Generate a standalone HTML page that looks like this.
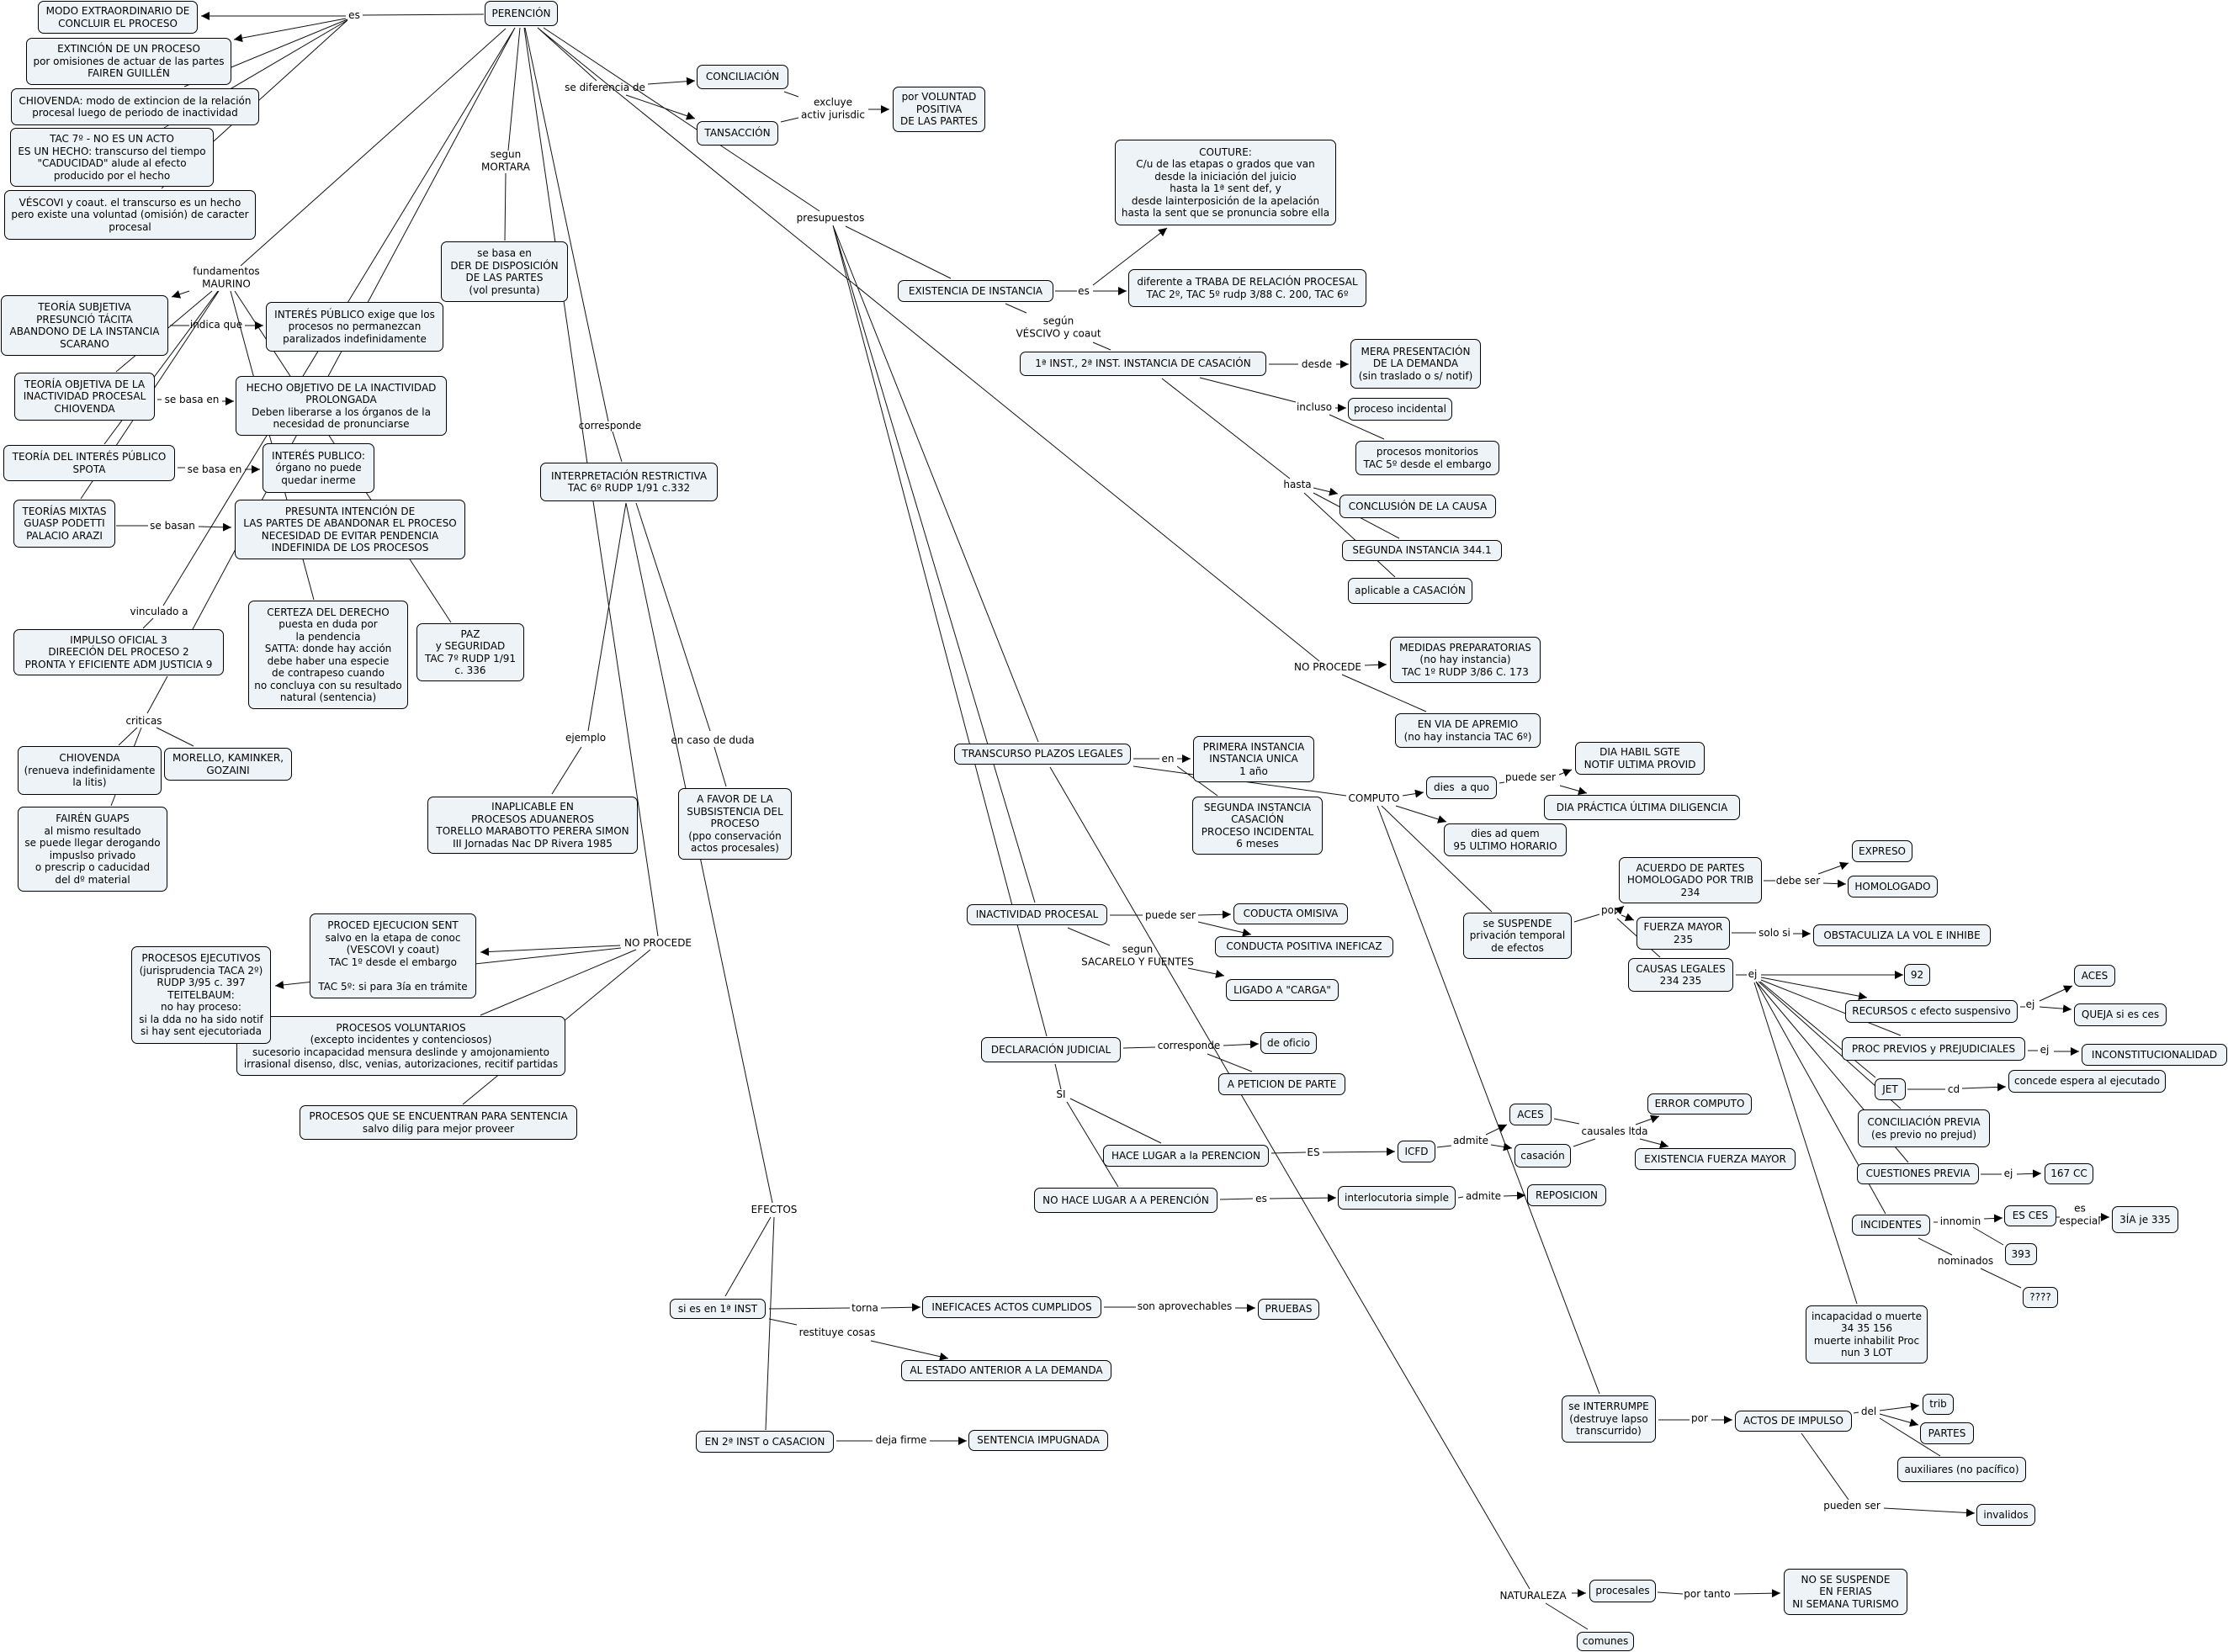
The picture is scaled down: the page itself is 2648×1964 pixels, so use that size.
<!DOCTYPE html>
<html lang="es"><head><meta charset="utf-8"><title>Perención</title>
<style>
html,body{margin:0;padding:0;background:#fff}
#c{position:relative;width:2648px;height:1964px;overflow:hidden;font:12px/14.5px "DejaVu Sans","Liberation Sans",sans-serif;color:#000}
svg{position:absolute;left:0;top:0}
.n{position:absolute;box-sizing:border-box;display:flex;align-items:center;justify-content:center;text-align:center;white-space:nowrap;background:#edf3f6;border:1px solid #000;border-radius:7px}
.l{position:absolute;transform:translate(-50%,-50%);text-align:center;white-space:nowrap}
.p{fill:none;stroke:#111;stroke-width:1}
.a{fill:none;stroke:#111;stroke-width:1;marker-end:url(#m)}
</style></head><body><div id="c">
<svg width="2648" height="1964" viewBox="0 0 2648 1964">
<defs><marker id="m" markerUnits="userSpaceOnUse" markerWidth="11" markerHeight="11" refX="10" refY="5" orient="auto"><path d="M0 0L10 5L0 10z" fill="#000"/></marker></defs>
<path class="p" d="M575 17L431 18M413 23L219 103M413 24L195 152M413 24L192 224M601 34L286 316M612 33L194 720M612 33L229 748M618 33L604 179M601 206L600 286M623 33L698 551M624 33L723 501M728 513L739 549M639 33L709 96M646 33L974 251M639 33L1568 786
M932 109L949 115M928 145L949 140M1005 269L1130 331M990 268L1234 882M990 268L1230 1073M990 268L1244 1232M1248 912L1818 1889
M1254 346L1280 346M1195 361L1220 372M1299 407L1320 416M1508 433L1543 433M1426 449L1540 478M1580 493L1645 522M1381 450L1533 569M1561 586L1663 640M1550 586L1658 686
M1595 802L1695 846M1347 902L1378 902M1399 911L1447 946M1347 911L1600 946M1782 931L1788 930M1642 958L1773 1084M1637 958L1901 1657
M1871 1096L1901 1087M1922 1092L1973 1138M2096 1047L2110 1047M2058 1109L2087 1109M2063 1159L2076 1159M2093 1165L2259 1231M2092 1167L2229 1281M2090 1167L2259 1318M2087 1167L2268 1382M2087 1167L2241 1443M2085 1168L2207 1550M2401 1197L2407 1197M2410 1249L2422 1249M2267 1295L2312 1295
M1335 1246L1373 1245M1435 1253L1488 1274M1269 1103L1319 1124M1319 1088L1358 1088M1254 1265L1261 1295M1272 1306L1380 1359M1268 1310L1329 1411M1511 1371L1552 1370M1708 1364L1725 1362M1450 1426L1489 1425M1733 1424L1739 1423
M1847 1330L1877 1336M1870 1363L1896 1354M2354 1396L2379 1396M2298 1453L2303 1453M2345 1459L2381 1480M2444 1447L2448 1447M2280 1472L2320 1492M2354 1508L2402 1531M1971 1688L2008 1688M2203 1680L2209 1679M2234 1686L2306 1731M2141 1704L2197 1783M1837 1906L1887 1937M1970 1893L2000 1895
M252 346L138 442M259 346L124 528M260 346L96 593M274 346L373 713M279 346L536 740M202 387L225 387M187 475L192 475M211 556L220 556M138 625L176 625M182 735L170 747M199 804L175 848M163 865L141 886M168 865L132 958M186 865L230 887
M705 596L782 1113M744 598L699 869M691 888L656 944M744 598L918 1430M756 598L844 869M849 888L863 935
M916 1447L862 1541M920 1447L910 1700M914 1556L1010 1555M914 1568L947 1575M1312 1554L1350 1554M994 1713L1037 1713
M756 1129L571 1207M773 1129L550 1313"/>
<path class="a" d="M411 19L239 19"/><path class="a" d="M411 22L278 47"/>
<path class="a" d="M770 100L826 96"/><path class="a" d="M744 113L826 141"/><path class="a" d="M1032 130L1057 130"/>
<path class="a" d="M1299 339L1387 271"/><path class="a" d="M1299 346L1339 346"/><path class="a" d="M1588 433L1603 433"/><path class="a" d="M1587 485L1600 485"/><path class="a" d="M1561 580L1590 587"/>
<path class="a" d="M1622 791L1648 790"/><path class="a" d="M1399 902L1415 902"/><path class="a" d="M1667 946L1692 942"/><path class="a" d="M1853 921L1868 915"/><path class="a" d="M1854 934L1886 943"/><path class="a" d="M1659 958L1719 977"/>
<path class="a" d="M1919 1087L1930 1077"/><path class="a" d="M1927 1088L1942 1094"/><path class="a" d="M2161 1039L2197 1026"/><path class="a" d="M2167 1050L2194 1051"/><path class="a" d="M2131 1110L2152 1110"/>
<path class="a" d="M2093 1159L2262 1159"/><path class="a" d="M2093 1162L2219 1186"/><path class="a" d="M2424 1190L2463 1172"/><path class="a" d="M2424 1197L2462 1200"/><path class="a" d="M2441 1250L2471 1250"/><path class="a" d="M2332 1294L2384 1292"/>
<path class="a" d="M1454 1243L1496 1241"/><path class="a" d="M1412 1151L1455 1160"/><path class="a" d="M1424 1088L1463 1087"/><path class="a" d="M1424 1096L1487 1111"/>
<path class="a" d="M1572 1370L1658 1369"/><path class="a" d="M1766 1349L1791 1337"/><path class="a" d="M1772 1361L1797 1365"/><path class="a" d="M1509 1425L1588 1424"/><path class="a" d="M1787 1422L1813 1421"/>
<path class="a" d="M1944 1337L1972 1327"/><path class="a" d="M1949 1354L1983 1363"/><path class="a" d="M2397 1396L2426 1395"/><path class="a" d="M2358 1449L2380 1448"/><path class="a" d="M2495 1447L2507 1447"/>
<path class="a" d="M2034 1688L2059 1688"/><path class="a" d="M2234 1677L2281 1671"/><path class="a" d="M2234 1681L2280 1694"/><path class="a" d="M2239 1793L2347 1799"/>
<path class="a" d="M1868 1894L1885 1894"/><path class="a" d="M2061 1895L2116 1894"/>
<path class="a" d="M225 346L204 353"/><path class="a" d="M291 387L313 387"/><path class="a" d="M264 477L278 477"/><path class="a" d="M291 558L309 558"/><path class="a" d="M236 626L275 627"/>
<path class="a" d="M1047 1555L1094 1554"/><path class="a" d="M1035 1594L1127 1615"/><path class="a" d="M1468 1555L1492 1555"/><path class="a" d="M1105 1713L1149 1713"/>
<path class="a" d="M737 1124L571 1132"/><path class="a" d="M738 1127L327 1172"/>
</svg>

<div class="n" style="left:576px;top:1px;width:87px;height:30px">PERENCIÓN</div>
<div class="n" style="left:45px;top:1px;width:190px;height:39px">MODO EXTRAORDINARIO DE<br>CONCLUIR EL PROCESO</div>
<div class="n" style="left:31px;top:45px;width:244px;height:56px">EXTINCIÓN DE UN PROCESO<br>por omisiones de actuar de las partes<br>FAIREN GUILLÉN</div>
<div class="n" style="left:13px;top:105px;width:295px;height:44px">CHIOVENDA: modo de extincion de la relación<br>procesal luego de periodo de inactividad</div>
<div class="n" style="left:12px;top:152px;width:242px;height:70px">TAC 7º - NO ES UN ACTO<br>ES UN HECHO: transcurso del tiempo<br>"CADUCIDAD" alude al efecto<br>producido por el hecho</div>
<div class="n" style="left:5px;top:226px;width:299px;height:59px">VÉSCOVI y coaut. el transcurso es un hecho<br>pero existe una voluntad (omisión) de caracter<br>procesal</div>
<div class="n" style="left:1px;top:351px;width:199px;height:72px">TEORÍA SUBJETIVA<br>PRESUNCIÓ TÁCITA<br>ABANDONO DE LA INSTANCIA<br>SCARANO</div>
<div class="n" style="left:316px;top:359px;width:211px;height:59px">INTERÉS PÚBLICO exige que los<br>procesos no permanezcan<br>paralizados indefinidamente</div>
<div class="n" style="left:524px;top:287px;width:151px;height:72px">se basa en<br>DER DE DISPOSICIÓN<br>DE LAS PARTES<br>(vol presunta)</div>
<div class="n" style="left:17px;top:443px;width:167px;height:57px">TEORÍA OBJETIVA DE LA<br>INACTIVIDAD PROCESAL<br>CHIOVENDA</div>
<div class="n" style="left:280px;top:447px;width:251px;height:71px">HECHO OBJETIVO DE LA INACTIVIDAD<br>PROLONGADA<br>Deben liberarse a los órganos de la<br>necesidad de pronunciarse</div>
<div class="n" style="left:4px;top:529px;width:204px;height:43px">TEORÍA DEL INTERÉS PÚBLICO<br>SPOTA</div>
<div class="n" style="left:312px;top:527px;width:133px;height:59px">INTERÉS PUBLICO:<br>órgano no puede<br>quedar inerme</div>
<div class="n" style="left:16px;top:594px;width:121px;height:57px">TEORÍAS MIXTAS<br>GUASP PODETTI<br>PALACIO ARAZI</div>
<div class="n" style="left:279px;top:594px;width:274px;height:71px">PRESUNTA INTENCIÓN DE<br>LAS PARTES DE ABANDONAR EL PROCESO<br>NECESIDAD DE EVITAR PENDENCIA<br>INDEFINIDA DE LOS PROCESOS</div>
<div class="n" style="left:16px;top:748px;width:250px;height:55px">IMPULSO OFICIAL 3<br>DIREECIÓN DEL PROCESO 2<br>PRONTA Y EFICIENTE ADM JUSTICIA 9</div>
<div class="n" style="left:295px;top:714px;width:190px;height:129px">CERTEZA DEL DERECHO<br>puesta en duda por<br>la pendencia<br>SATTA: donde hay acción<br>debe haber una especie<br>de contrapeso cuando<br>no concluya con su resultado<br>natural (sentencia)</div>
<div class="n" style="left:495px;top:741px;width:128px;height:69px">PAZ<br>y SEGURIDAD<br>TAC 7º RUDP 1/91<br>c. 336</div>
<div class="n" style="left:21px;top:887px;width:171px;height:58px">CHIOVENDA<br>(renueva indefinidamente<br>la litis)</div>
<div class="n" style="left:195px;top:889px;width:152px;height:39px">MORELLO, KAMINKER,<br>GOZAINI</div>
<div class="n" style="left:21px;top:959px;width:178px;height:101px">FAIRÉN GUAPS<br>al mismo resultado<br>se puede llegar derogando<br>impuslso privado<br>o prescrip o caducidad<br>del dº material</div>
<div class="n" style="left:508px;top:947px;width:250px;height:68px">INAPLICABLE EN<br>PROCESOS ADUANEROS<br>TORELLO MARABOTTO PERERA SIMON<br>III Jornadas Nac DP Rivera 1985</div>
<div class="n" style="left:806px;top:937px;width:135px;height:85px">A FAVOR DE LA<br>SUBSISTENCIA DEL<br>PROCESO<br>(ppo conservación<br>actos procesales)</div>
<div class="n" style="left:368px;top:1086px;width:198px;height:101px">PROCED EJECUCION SENT<br>salvo en la etapa de conoc<br>(VESCOVI y coaut)<br>TAC 1º desde el embargo<br><br>TAC 5º: si para 3ía en trámite</div>
<div class="n" style="left:281px;top:1208px;width:391px;height:71px">PROCESOS VOLUNTARIOS<br>(excepto incidentes y contenciosos)<br>sucesorio incapacidad mensura deslinde y amojonamiento<br>irrasional disenso, dlsc, venias, autorizaciones, recitif partidas</div>
<div class="n" style="left:156px;top:1125px;width:166px;height:116px">PROCESOS EJECUTIVOS<br>(jurisprudencia TACA 2º)<br>RUDP 3/95 c. 397<br>TEITELBAUM:<br>no hay proceso:<br>si la dda no ha sido notif<br>si hay sent ejecutoriada</div>
<div class="n" style="left:356px;top:1314px;width:330px;height:41px">PROCESOS QUE SE ENCUENTRAN PARA SENTENCIA<br>salvo dilig para mejor proveer</div>
<div class="n" style="left:828px;top:77px;width:109px;height:29px">CONCILIACIÓN</div>
<div class="n" style="left:828px;top:144px;width:97px;height:29px">TANSACCIÓN</div>
<div class="n" style="left:1061px;top:103px;width:110px;height:54px">por VOLUNTAD<br>POSITIVA<br>DE LAS PARTES</div>
<div class="n" style="left:1325px;top:166px;width:263px;height:102px">COUTURE:<br>C/u de las etapas o grados que van<br>desde la iniciación del juicio<br>hasta la 1ª sent def, y<br>desde lainterposición de la apelación<br>hasta la sent que se pronuncia sobre ella</div>
<div class="n" style="left:1067px;top:333px;width:185px;height:26px">EXISTENCIA DE INSTANCIA</div>
<div class="n" style="left:1341px;top:320px;width:283px;height:45px">diferente a TRABA DE RELACIÓN PROCESAL<br>TAC 2º, TAC 5º rudp 3/88 C. 200, TAC 6º</div>
<div class="n" style="left:1212px;top:418px;width:293px;height:29px">1ª INST., 2ª INST. INSTANCIA DE CASACIÓN</div>
<div class="n" style="left:1605px;top:403px;width:155px;height:59px">MERA PRESENTACIÓN<br>DE LA DEMANDA<br>(sin traslado o s/ notif)</div>
<div class="n" style="left:1602px;top:473px;width:124px;height:27px">proceso incidental</div>
<div class="n" style="left:1611px;top:524px;width:171px;height:41px">procesos monitorios<br>TAC 5º desde el embargo</div>
<div class="n" style="left:642px;top:550px;width:211px;height:46px">INTERPRETACIÓN RESTRICTIVA<br>TAC 6º RUDP 1/91 c.332</div>
<div class="n" style="left:1592px;top:588px;width:186px;height:28px">CONCLUSIÓN DE LA CAUSA</div>
<div class="n" style="left:1595px;top:642px;width:190px;height:25px">SEGUNDA INSTANCIA 344.1</div>
<div class="n" style="left:1602px;top:687px;width:148px;height:31px">aplicable a CASACIÓN</div>
<div class="n" style="left:1652px;top:757px;width:179px;height:55px">MEDIDAS PREPARATORIAS<br>(no hay instancia)<br>TAC 1º RUDP 3/86 C. 173</div>
<div class="n" style="left:1658px;top:848px;width:173px;height:41px">EN VIA DE APREMIO<br>(no hay instancia TAC 6º)</div>
<div class="n" style="left:1134px;top:884px;width:210px;height:25px">TRANSCURSO PLAZOS LEGALES</div>
<div class="n" style="left:1418px;top:875px;width:144px;height:55px">PRIMERA INSTANCIA<br>INSTANCIA UNICA<br>1 año</div>
<div class="n" style="left:1417px;top:947px;width:155px;height:69px">SEGUNDA INSTANCIA<br>CASACIÓN<br>PROCESO INCIDENTAL<br>6 meses</div>
<div class="n" style="left:1695px;top:923px;width:84px;height:27px">dies&nbsp; a quo</div>
<div class="n" style="left:1716px;top:979px;width:146px;height:39px">dies ad quem<br>95 ULTIMO HORARIO</div>
<div class="n" style="left:1739px;top:1085px;width:129px;height:55px">se SUSPENDE<br>privación temporal<br>de efectos</div>
<div class="n" style="left:1149px;top:1075px;width:167px;height:25px">INACTIVIDAD PROCESAL</div>
<div class="n" style="left:1466px;top:1074px;width:136px;height:25px">CODUCTA OMISIVA</div>
<div class="n" style="left:1444px;top:1113px;width:212px;height:25px">CONDUCTA POSITIVA INEFICAZ</div>
<div class="n" style="left:1872px;top:882px;width:154px;height:39px">DIA HABIL SGTE<br>NOTIF ULTIMA PROVID</div>
<div class="n" style="left:1835px;top:945px;width:233px;height:30px">DIA PRÁCTICA ÚLTIMA DILIGENCIA</div>
<div class="n" style="left:1924px;top:1019px;width:170px;height:55px">ACUERDO DE PARTES<br>HOMOLOGADO POR TRIB<br>234</div>
<div class="n" style="left:2201px;top:999px;width:72px;height:26px">EXPRESO</div>
<div class="n" style="left:2196px;top:1041px;width:107px;height:26px">HOMOLOGADO</div>
<div class="n" style="left:1945px;top:1090px;width:111px;height:39px">FUERZA MAYOR<br>235</div>
<div class="n" style="left:2155px;top:1099px;width:211px;height:26px">OBSTACULIZA LA VOL E INHIBE</div>
<div class="n" style="left:1935px;top:1139px;width:125px;height:40px">CAUSAS LEGALES<br>234 235</div>
<div class="n" style="left:2263px;top:1146px;width:31px;height:26px">92</div>
<div class="n" style="left:2465px;top:1147px;width:49px;height:26px">ACES</div>
<div class="n" style="left:2193px;top:1189px;width:205px;height:27px">RECURSOS c efecto suspensivo</div>
<div class="n" style="left:2465px;top:1193px;width:110px;height:27px">QUEJA si es ces</div>
<div class="n" style="left:2189px;top:1233px;width:218px;height:28px">PROC PREVIOS y PREJUDICIALES</div>
<div class="n" style="left:2474px;top:1241px;width:173px;height:26px">INCONSTITUCIONALIDAD</div>
<div class="n" style="left:2228px;top:1282px;width:37px;height:26px">JET</div>
<div class="n" style="left:2387px;top:1272px;width:187px;height:27px">concede espera al ejecutado</div>
<div class="n" style="left:2208px;top:1319px;width:157px;height:45px">CONCILIACIÓN PREVIA<br>(es previo no prejud)</div>
<div class="n" style="left:1457px;top:1164px;width:134px;height:26px">LIGADO A "CARGA"</div>
<div class="n" style="left:1166px;top:1233px;width:166px;height:30px">DECLARACIÓN JUDICIAL</div>
<div class="n" style="left:1498px;top:1227px;width:67px;height:26px">de oficio</div>
<div class="n" style="left:1448px;top:1276px;width:151px;height:26px">A PETICION DE PARTE</div>
<div class="n" style="left:1311px;top:1361px;width:197px;height:26px">HACE LUGAR a la PERENCION</div>
<div class="n" style="left:1661px;top:1356px;width:45px;height:26px">ICFD</div>
<div class="n" style="left:1794px;top:1312px;width:50px;height:26px">ACES</div>
<div class="n" style="left:1800px;top:1360px;width:67px;height:28px">casación</div>
<div class="n" style="left:1229px;top:1412px;width:218px;height:30px">NO HACE LUGAR A A PERENCIÓN</div>
<div class="n" style="left:1590px;top:1410px;width:140px;height:28px">interlocutoria simple</div>
<div class="n" style="left:1815px;top:1408px;width:94px;height:26px">REPOSICION</div>
<div class="n" style="left:1958px;top:1300px;width:124px;height:25px">ERROR COMPUTO</div>
<div class="n" style="left:1943px;top:1365px;width:191px;height:26px">EXISTENCIA FUERZA MAYOR</div>
<div class="n" style="left:2207px;top:1383px;width:145px;height:25px">CUESTIONES PREVIA</div>
<div class="n" style="left:2430px;top:1383px;width:58px;height:25px">167 CC</div>
<div class="n" style="left:2201px;top:1444px;width:93px;height:25px">INCIDENTES</div>
<div class="n" style="left:2382px;top:1433px;width:62px;height:25px">ES CES</div>
<div class="n" style="left:2510px;top:1434px;width:79px;height:32px">3ÍA je 335</div>
<div class="n" style="left:2383px;top:1478px;width:38px;height:26px">393</div>
<div class="n" style="left:2404px;top:1530px;width:42px;height:25px">????</div>
<div class="n" style="left:2146px;top:1552px;width:145px;height:69px">incapacidad o muerte<br>34 35 156<br>muerte inhabilit Proc<br>nun 3 LOT</div>
<div class="n" style="left:1856px;top:1659px;width:112px;height:56px">se INTERRUMPE<br>(destruye lapso<br>transcurrido)</div>
<div class="n" style="left:2062px;top:1677px;width:139px;height:25px">ACTOS DE IMPULSO</div>
<div class="n" style="left:2285px;top:1657px;width:37px;height:25px">trib</div>
<div class="n" style="left:2282px;top:1691px;width:64px;height:26px">PARTES</div>
<div class="n" style="left:2255px;top:1732px;width:153px;height:30px">auxiliares (no pacífico)</div>
<div class="n" style="left:2349px;top:1788px;width:70px;height:26px">invalidos</div>
<div class="n" style="left:1889px;top:1878px;width:79px;height:27px">procesales</div>
<div class="n" style="left:2120px;top:1865px;width:147px;height:55px">NO SE SUSPENDE<br>EN FERIAS<br>NI SEMANA TURISMO</div>
<div class="n" style="left:1874px;top:1940px;width:68px;height:23px">comunes</div>
<div class="n" style="left:796px;top:1544px;width:114px;height:24px">si es en 1ª INST</div>
<div class="n" style="left:1096px;top:1541px;width:213px;height:26px">INEFICACES ACTOS CUMPLIDOS</div>
<div class="n" style="left:1495px;top:1544px;width:73px;height:25px">PRUEBAS</div>
<div class="n" style="left:1071px;top:1617px;width:250px;height:25px">AL ESTADO ANTERIOR A LA DEMANDA</div>
<div class="n" style="left:827px;top:1701px;width:164px;height:26px">EN 2ª INST o CASACION</div>
<div class="n" style="left:1151px;top:1700px;width:166px;height:25px">SENTENCIA IMPUGNADA</div>

<div class="l" style="left:421px;top:18px">es</div>
<div class="l" style="left:269px;top:330px">fundamentos<br>MAURINO</div>
<div class="l" style="left:601px;top:191px">segun<br>MORTARA</div>
<div class="l" style="left:257px;top:386px">indica que</div>
<div class="l" style="left:228px;top:475px">se basa en</div>
<div class="l" style="left:255px;top:558px">se basa en</div>
<div class="l" style="left:205px;top:625px">se basan</div>
<div class="l" style="left:189px;top:727px">vinculado a</div>
<div class="l" style="left:171px;top:857px">criticas</div>
<div class="l" style="left:696px;top:877px">ejemplo</div>
<div class="l" style="left:847px;top:880px">en caso de duda</div>
<div class="l" style="left:725px;top:506px">corresponde</div>
<div class="l" style="left:782px;top:1121px">NO PROCEDE</div>
<div class="l" style="left:719px;top:104px">se diferencia de</div>
<div class="l" style="left:990px;top:129px">excluye<br>activ jurisdic</div>
<div class="l" style="left:987px;top:259px">presupuestos</div>
<div class="l" style="left:1288px;top:346px">es</div>
<div class="l" style="left:1258px;top:389px">según<br>VÉSCIVO y coaut</div>
<div class="l" style="left:1565px;top:433px">desde</div>
<div class="l" style="left:1562px;top:484px">incluso</div>
<div class="l" style="left:1542px;top:576px">hasta</div>
<div class="l" style="left:1578px;top:793px">NO PROCEDE</div>
<div class="l" style="left:1388px;top:902px">en</div>
<div class="l" style="left:1633px;top:949px">COMPUTO</div>
<div class="l" style="left:1819px;top:924px">puede ser</div>
<div class="l" style="left:1391px;top:1088px">puede ser</div>
<div class="l" style="left:1352px;top:1136px">segun<br>SACARELO Y FUENTES</div>
<div class="l" style="left:1913px;top:1082px">por</div>
<div class="l" style="left:2137px;top:1047px">debe ser</div>
<div class="l" style="left:2109px;top:1109px">solo si</div>
<div class="l" style="left:2083px;top:1158px">ej</div>
<div class="l" style="left:2413px;top:1194px">ej</div>
<div class="l" style="left:2430px;top:1248px">ej</div>
<div class="l" style="left:2322px;top:1295px">cd</div>
<div class="l" style="left:1413px;top:1243px">corresponde</div>
<div class="l" style="left:1261px;top:1301px">SI</div>
<div class="l" style="left:1561px;top:1370px">ES</div>
<div class="l" style="left:1748px;top:1356px">admite</div>
<div class="l" style="left:1919px;top:1345px">causales ltda</div>
<div class="l" style="left:1499px;top:1425px">es</div>
<div class="l" style="left:1763px;top:1422px">admite</div>
<div class="l" style="left:920px;top:1438px">EFECTOS</div>
<div class="l" style="left:1028px;top:1555px">torna</div>
<div class="l" style="left:995px;top:1584px">restituye cosas</div>
<div class="l" style="left:1408px;top:1553px">son aprovechables</div>
<div class="l" style="left:1071px;top:1712px">deja firme</div>
<div class="l" style="left:2387px;top:1395px">ej</div>
<div class="l" style="left:2330px;top:1452px">innomin</div>
<div class="l" style="left:2472px;top:1444px">es<br>especial</div>
<div class="l" style="left:2336px;top:1499px">nominados</div>
<div class="l" style="left:2020px;top:1686px">por</div>
<div class="l" style="left:2221px;top:1678px">del</div>
<div class="l" style="left:2201px;top:1790px">pueden ser</div>
<div class="l" style="left:1822px;top:1897px">NATURALEZA</div>
<div class="l" style="left:2029px;top:1895px">por tanto</div>
</div></body></html>
